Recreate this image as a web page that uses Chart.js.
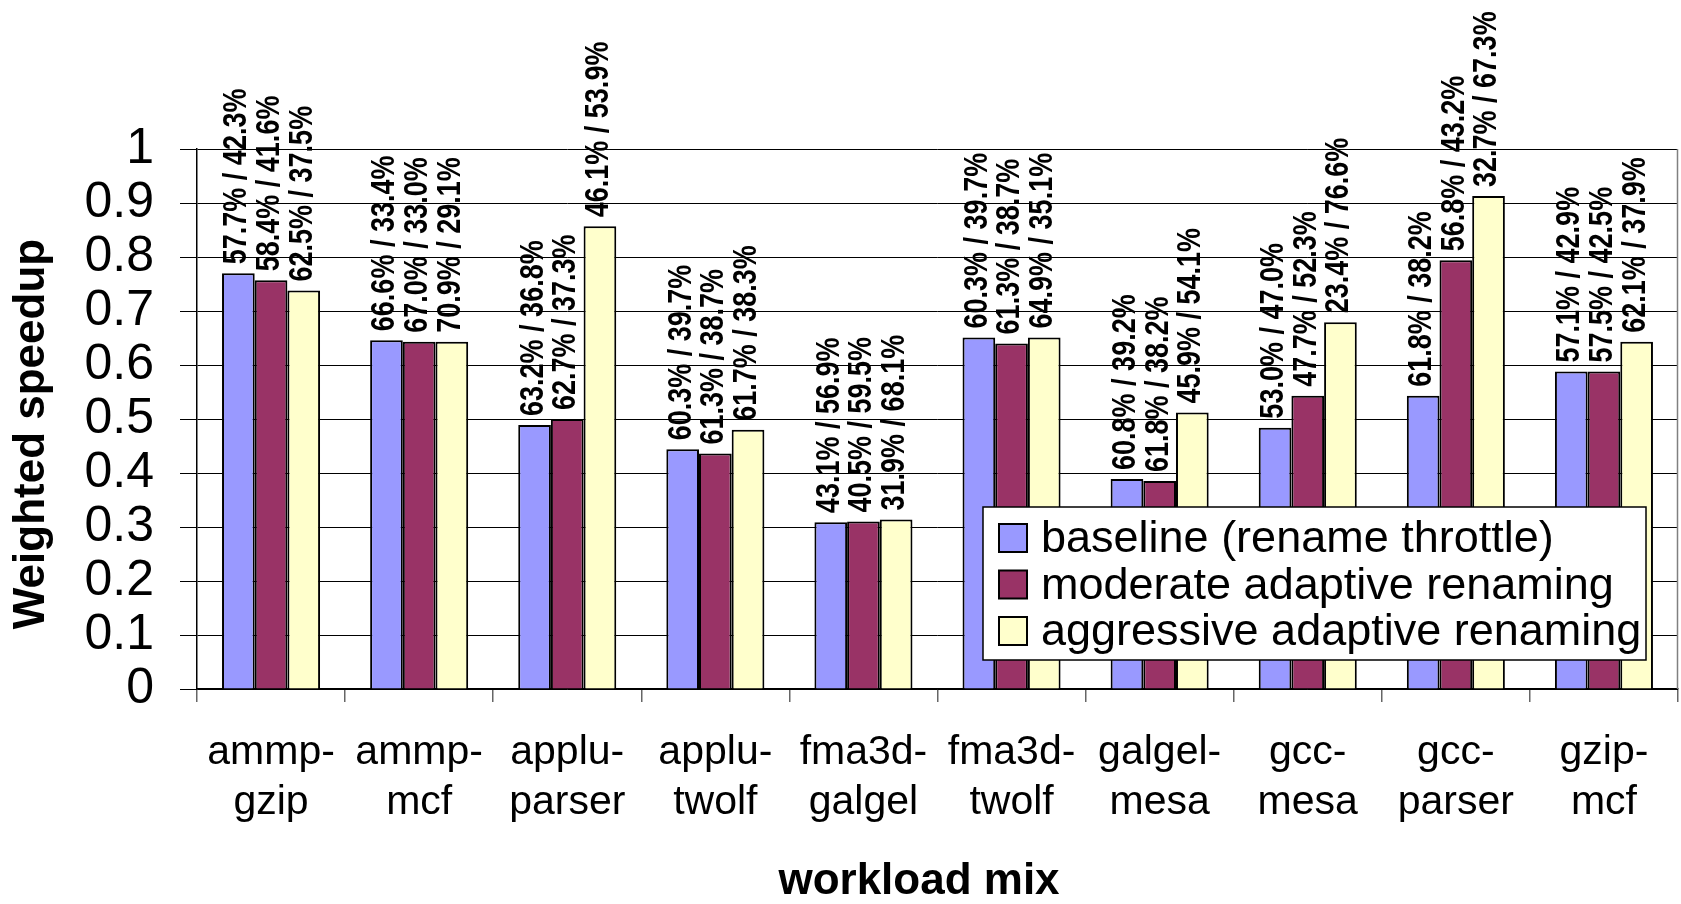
<!DOCTYPE html>
<html><head><meta charset="utf-8">
<script src="https://cdn.jsdelivr.net/npm/chart.js@4.4.1/dist/chart.umd.min.js"></script>
<style>html,body{margin:0;padding:0;background:#fff;}canvas{display:block;}</style>
</head><body>
<canvas id="c" width="1681" height="904"></canvas>
<script>
const categories = [['ammp-','gzip'],['ammp-','mcf'],['applu-','parser'],['applu-','twolf'],['fma3d-','galgel'],['fma3d-','twolf'],['galgel-','mesa'],['gcc-','mesa'],['gcc-','parser'],['gzip-','mcf']];
const seriesNames = ['baseline (rename throttle)','moderate adaptive renaming','aggressive adaptive renaming'];
const baseline   = [0.770,0.646,0.489,0.444,0.309,0.651,0.389,0.484,0.543,0.588];
const moderate   = [0.757,0.643,0.500,0.436,0.310,0.640,0.385,0.543,0.794,0.588];
const aggressive = [0.738,0.643,0.857,0.480,0.314,0.651,0.512,0.679,0.913,0.643];
const baselineLabels   = ['57.7% / 42.3%','66.6% / 33.4%','63.2% / 36.8%','60.3% / 39.7%','43.1% / 56.9%','60.3% / 39.7%','60.8% / 39.2%','53.0% / 47.0%','61.8% / 38.2%','57.1% / 42.9%'];
const moderateLabels   = ['58.4% / 41.6%','67.0% / 33.0%','62.7% / 37.3%','61.3% / 38.7%','40.5% / 59.5%','61.3% / 38.7%','61.8% / 38.2%','47.7% / 52.3%','56.8% / 43.2%','57.5% / 42.5%'];
const aggressiveLabels = ['62.5% / 37.5%','70.9% / 29.1%','46.1% / 53.9%','61.7% / 38.3%','31.9% / 68.1%','64.9% / 35.1%','45.9% / 54.1%','23.4% / 76.6%','32.7% / 67.3%','62.1% / 37.9%'];
const yTickLabels = ['0','0.1','0.2','0.3','0.4','0.5','0.6','0.7','0.8','0.9','1'];
const xTitle = 'workload mix';
const yTitle = 'Weighted speedup';

const FONT = '"Liberation Sans", Arial, sans-serif';

const barLabelPlugin = {
  id: 'barLabels',
  afterDatasetsDraw(chart) {
    const ctx = chart.ctx;
    ctx.save();
    ctx.font = 'bold 27px ' + FONT;
    ctx.fillStyle = '#000';
    ctx.textAlign = 'left';
    ctx.textBaseline = 'middle';
    chart.data.datasets.forEach((ds, i) => {
      const meta = chart.getDatasetMeta(i);
      meta.data.forEach((bar, j) => {
        ctx.save();
        ctx.translate(bar.x - 1, bar.y - 9);
        ctx.rotate(-Math.PI / 2);
        ctx.scale(1, 1.2);
        ctx.fillText(ds.barLabels[j], 0, 0);
        ctx.restore();
      });
    });
    ctx.restore();
  }
};

const framePlugin = {
  id: 'frame',
  beforeDatasetsDraw(chart) {
    const {ctx, chartArea: a} = chart;
    ctx.save();
    ctx.strokeStyle = '#808080';
    ctx.lineWidth = 1.5;
    ctx.beginPath();
    ctx.moveTo(a.right - 0.5, a.top);
    ctx.lineTo(a.right - 0.5, a.bottom);
    ctx.stroke();
    ctx.restore();
  },
  afterDraw(chart) {
    const {ctx} = chart;
    ctx.save();
    ctx.fillStyle = '#000';
    ctx.font = 'bold 44px ' + FONT;
    ctx.textAlign = 'center';
    ctx.textBaseline = 'middle';
    ctx.fillText(xTitle, 919, 882);
    ctx.save();
    ctx.translate(32, 434);
    ctx.rotate(-Math.PI / 2);
    ctx.fillText(yTitle, 0, 0);
    ctx.restore();
    const lx = 983, ly = 507, lw = 663, lh = 153;
    ctx.fillStyle = '#fff';
    ctx.fillRect(lx, ly, lw, lh);
    ctx.strokeStyle = '#000';
    ctx.lineWidth = 1.5;
    ctx.strokeRect(lx, ly, lw, lh);
    ctx.font = '45px ' + FONT;
    ctx.textAlign = 'left';
    ctx.textBaseline = 'middle';
    chart.data.datasets.forEach((ds, i) => {
      const cy = 538 + i * 46.5;
      ctx.fillStyle = ds.backgroundColor;
      ctx.fillRect(999, cy - 14, 28, 28);
      ctx.strokeStyle = '#000';
      ctx.lineWidth = 2;
      ctx.strokeRect(999, cy - 14, 28, 28);
      ctx.fillStyle = '#000';
      ctx.fillText(ds.label, 1041, cy + 2);
    });
    ctx.restore();
  }
};

const mk = (label, data, color, labels) => ({
  label, data, backgroundColor: color, borderColor: '#000', borderWidth: 2,
  barPercentage: 1.0, categoryPercentage: 0.662, barLabels: labels
});

new Chart(document.getElementById('c'), {
  type: 'bar',
  data: {
    labels: categories,
    datasets: [
      mk(seriesNames[0], baseline, '#9999FF', baselineLabels),
      mk(seriesNames[1], moderate, '#993366', moderateLabels),
      mk(seriesNames[2], aggressive, '#FFFFCC', aggressiveLabels)
    ]
  },
  options: {
    responsive: false,
    animation: false,
    devicePixelRatio: 1,
    layout: {padding: {top: 149, right: 3, left: 0, bottom: 0}},
    plugins: {legend: {display: false}, tooltip: {enabled: false}, title: {display: false}},
    scales: {
      x: {
        afterFit(s) { s.height = 215; },
        grid: {offset: true, drawOnChartArea: false, drawTicks: true, tickLength: 13, color: '#666', lineWidth: 1.5},
        border: {display: true, color: '#000', width: 1.5},
        ticks: {font: {family: FONT, size: 41, lineHeight: 1.22}, color: '#000', padding: 26, maxRotation: 0, autoSkip: false}
      },
      y: {
        min: 0, max: 1,
        afterFit(s) { s.width = 197; },
        grid: {color: '#000', lineWidth: 1, tickLength: 17, drawTicks: true},
        border: {display: true, color: '#000', width: 1.5},
        ticks: {stepSize: 0.1, autoSkip: false, font: {family: FONT, size: 50}, color: '#000', padding: 26,
          callback: (v) => yTickLabels[Math.round(v * 10)]}
      }
    }
  },
  plugins: [barLabelPlugin, framePlugin]
});
</script>
</body></html>
